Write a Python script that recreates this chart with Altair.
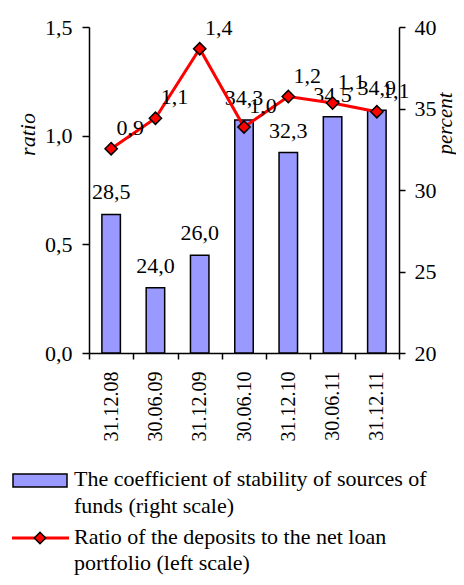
import altair as alt
import pandas as pd

dates = ["31.12.08", "30.06.09", "31.12.09", "30.06.10", "31.12.10", "30.06.11", "31.12.11"]
stability = [28.5, 24.0, 26.0, 34.3, 32.3, 34.5, 34.9]
ratio = [0.94, 1.08, 1.40, 1.04, 1.18, 1.15, 1.11]
legend_labels = [
    "The coefficient of stability of sources of\nfunds (right scale)",
    "Ratio of the deposits to the net loan\nportfolio (left scale)",
]

df = pd.DataFrame({"date": dates, "stability": stability, "ratio": ratio})
one = pd.DataFrame({"k": [0]})

FONT = "Liberation Serif"
FSX = 20
FS = 22
BAR = "#9999FF"
RED = "#FF0000"

xenc = alt.X(
    "date:N", sort=dates, title=None,
    scale=alt.Scale(paddingInner=0, paddingOuter=0),
    axis=alt.Axis(labelAngle=270, labelAlign="right", labelBaseline="middle",
                  labelPadding=12, tickSize=6, tickBand="extent",
                  labelFont=FONT, labelFontSize=FSX, labelColor="black",
                  domainColor="black", tickColor="black", domainWidth=1.5, tickWidth=1.5),
)

fmt1 = "replace(format(datum.value, '.1f'), '.', ',')"

right_scale = alt.Scale(domain=[20, 40], zero=False, nice=False)
left_scale = alt.Scale(domain=[0, 1.5], nice=False)

yright = alt.Y("stability:Q", scale=right_scale,
               axis=alt.Axis(orient="right", values=[20, 25, 30, 35, 40], title="percent",
                             titleAngle=270, titleX=46, titleY=96, titleAlign="center",
                             titleBaseline="middle", titleFont=FONT, titleFontSize=21,
                             titleFontStyle="italic", titleFontWeight="normal", titleColor="black",
                             labelFont=FONT, labelFontSize=FS, labelColor="black", labelPadding=9,
                             tickSize=6, domainColor="black", tickColor="black",
                             domainWidth=1.5, tickWidth=1.5, grid=False))

yleft = alt.Y("ratio:Q", scale=left_scale,
              axis=alt.Axis(orient="left", values=[0, 0.5, 1, 1.5], labelExpr=fmt1, title="ratio",
                            titleAngle=270, titleX=-62, titleY=107, titleAlign="center",
                            titleBaseline="middle", titleFont=FONT, titleFontSize=FS,
                            titleFontStyle="italic", titleFontWeight="normal", titleColor="black",
                            labelFont=FONT, labelFontSize=FS, labelColor="black", labelPadding=10,
                            tickSize=7, domainColor="black", tickColor="black",
                            domainWidth=1.5, tickWidth=1.5, grid=False))

bars = alt.Chart(df).mark_bar(size=18.5, fill=BAR, stroke="black", strokeWidth=1.5).encode(
    x=xenc, y=yright, y2=alt.datum(20),
)

bar_text = alt.Chart(df).transform_calculate(
    lab="replace(format(datum.stability, '.1f'), '.', ',')"
).mark_text(font=FONT, fontSize=FS, baseline="bottom", align="center", dy=-10, color="black").encode(
    x=xenc, y=yright, text="lab:N",
)

line = alt.Chart(df).mark_line(color=RED, strokeWidth=3).encode(x=xenc, y=yleft)

points = alt.Chart(df).mark_point(shape="diamond", filled=True, fill=RED, stroke="black",
                                  strokeWidth=1.5, size=150, opacity=1).encode(x=xenc, y=yleft)

line_text = alt.Chart(df).transform_calculate(
    lab="replace(format(datum.ratio, '.1f'), '.', ',')"
).mark_text(font=FONT, fontSize=FS, baseline="middle", align="center", dx=19, dy=-21, color="black").encode(
    x=xenc, y=yleft, text="lab:N",
)

leg_rect = alt.Chart(one).mark_rect(fill=BAR, stroke="black", strokeWidth=1.5).encode(
    x=alt.value(-76), x2=alt.value(-22), y=alt.value(447), y2=alt.value(460)
)
leg_text1 = alt.Chart(one).mark_text(font=FONT, fontSize=FS, align="left", baseline="alphabetic",
                                     lineBreak="\n", lineHeight=27, color="black").encode(
    x=alt.value(-15), y=alt.value(459), text=alt.value(legend_labels[0])
)
leg_line = alt.Chart(one).mark_rule(color=RED, strokeWidth=3).encode(
    x=alt.value(-77), x2=alt.value(-20), y=alt.value(511)
)
leg_pt = alt.Chart(one).mark_point(shape="diamond", filled=True, fill=RED, stroke="black",
                                   strokeWidth=1.5, size=130, opacity=1).encode(
    x=alt.value(-49), y=alt.value(511)
)
leg_text2 = alt.Chart(one).mark_text(font=FONT, fontSize=FS, align="left", baseline="alphabetic",
                                     lineBreak="\n", lineHeight=26, color="black").encode(
    x=alt.value(-15), y=alt.value(517), text=alt.value(legend_labels[1])
)

bar_group = alt.layer(bars, bar_text)
line_group = alt.layer(line, points, line_text)
legend_group = alt.layer(leg_rect, leg_text1, leg_line, leg_pt, leg_text2)

chart = alt.layer(bar_group, line_group, legend_group).resolve_scale(y="independent").properties(
    width=310, height=326,
    autosize=alt.AutoSizeParams(type="none"),
    padding={"left": 81, "top": 19, "right": 57, "bottom": 224},
).configure_view(stroke=None)

chart.save("out.html", embed_options={"renderer": "svg", "actions": False})
